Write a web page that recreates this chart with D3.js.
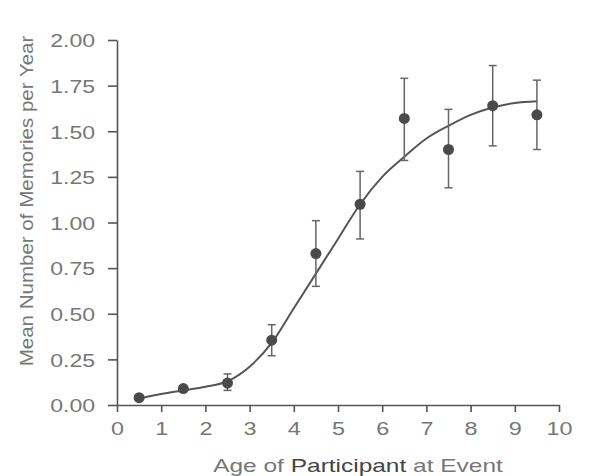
<!DOCTYPE html>
<html>
<head>
<meta charset="utf-8">
<script src="https://cdn.jsdelivr.net/npm/d3@7"></script>
<style>
body { margin: 0; background: #fff; }
svg { display: block; }
text { font-family: "Liberation Sans", Arial, sans-serif; }
</style>
</head>
<body>
<svg id="chart" width="589" height="476"></svg>
<script>
// age bins (midpoints) and mean memories per year
const ages = [0.5, 1.5, 2.5, 3.5, 4.5, 5.5, 6.5, 7.5, 8.5, 9.5];
const means = [0.04, 0.09, 0.12, 0.355, 0.83, 1.10, 1.57, 1.40, 1.64, 1.59];
const errHigh = [0.05, 0.10, 0.17, 0.44, 1.01, 1.28, 1.79, 1.62, 1.86, 1.78];
const errLow = [0.03, 0.08, 0.08, 0.27, 0.65, 0.91, 1.34, 1.19, 1.42, 1.40];

// fitted curve
const fitX = [0.5, 1, 1.5, 2, 2.5, 3, 3.5, 4, 4.5, 5, 5.5, 6, 6.5, 7, 7.5, 8, 8.5, 9, 9.5];
const fitY = [0.035, 0.06, 0.08, 0.10, 0.13, 0.21, 0.34, 0.53, 0.72, 0.91, 1.10, 1.25, 1.36, 1.46, 1.53, 1.59, 1.63, 1.655, 1.665];

const xTicks = [0, 1, 2, 3, 4, 5, 6, 7, 8, 9, 10];
const yTicks = [0, 0.25, 0.5, 0.75, 1, 1.25, 1.5, 1.75, 2];

const svg = d3.select('#chart');
const x = d3.scaleLinear().domain([0, 10]).range([117, 559]);
const y = d3.scaleLinear().domain([0, 2]).range([405, 40]);

const axisColor = '#555';
const textColor = '#777';

//Y axis
const yAxis = svg.append('g')
	.attr('transform', 'translate(' + x(0) + ',0)')
	.call(d3.axisLeft(y).tickValues(yTicks).tickFormat(d3.format('.2f')).tickSize(9).tickSizeOuter(0));
yAxis.select('.domain').attr('stroke', axisColor).attr('stroke-width', 1.6);
yAxis.selectAll('.tick line').attr('stroke', axisColor).attr('stroke-width', 1.6);
yAxis.selectAll('.tick text')
	.attr('x', 0)
	.attr('transform', 'translate(-22,1) scale(1.28,1)')
	.attr('fill', textColor)
	.style('font-size', '18px');

//X axis
const xAxis = svg.append('g')
	.attr('transform', 'translate(0,' + y(0) + ')')
	.call(d3.axisBottom(x).tickValues(xTicks).tickFormat(d3.format('d')).tickSize(7).tickSizeOuter(0));
xAxis.select('.domain').attr('stroke', axisColor).attr('stroke-width', 1.6);
xAxis.selectAll('.tick line').attr('stroke', axisColor).attr('stroke-width', 1.6);
xAxis.selectAll('.tick text')
	.attr('y', 17)
	.attr('transform', 'scale(1.3,1)')
	.attr('fill', textColor)
	.style('font-size', '18px');

//Axis titles
svg.append('text')
	.attr('transform', 'translate(33,201) rotate(-90) scale(1.14,1)')
	.attr('text-anchor', 'middle')
	.attr('fill', textColor)
	.style('font-size', '18px')
	.text('Mean Number of Memories per Year');

const xTitle = svg.append('text')
	.attr('transform', 'translate(358,472) scale(1.36,1)')
	.attr('text-anchor', 'middle')
	.attr('fill', textColor)
	.style('font-size', '18px');
xTitle.append('tspan').text('Age of ');
xTitle.append('tspan').attr('fill', '#444').text('Participant');
xTitle.append('tspan').text('  at Event');

//Fitted curve
const line = d3.line()
	.x((d, i) => x(fitX[i]))
	.y(d => y(d))
	.curve(d3.curveMonotoneX);
svg.append('path')
	.attr('d', line(fitY))
	.attr('fill', 'none')
	.attr('stroke', '#555')
	.attr('stroke-width', 2);

//Error bars
const cap = 4;
const bars = svg.append('g').attr('stroke', '#666').attr('stroke-width', 1.5);
bars.selectAll('line.v')
	.data(ages)
	.enter()
	.append('line')
	.attr('class', 'v')
	.attr('x1', d => x(d)).attr('x2', d => x(d))
	.attr('y1', (d, i) => y(errLow[i])).attr('y2', (d, i) => y(errHigh[i]));
bars.selectAll('line.hi')
	.data(ages)
	.enter()
	.append('line')
	.attr('class', 'hi')
	.attr('x1', d => x(d) - cap).attr('x2', d => x(d) + cap)
	.attr('y1', (d, i) => y(errHigh[i])).attr('y2', (d, i) => y(errHigh[i]));
bars.selectAll('line.lo')
	.data(ages)
	.enter()
	.append('line')
	.attr('class', 'lo')
	.attr('x1', d => x(d) - cap).attr('x2', d => x(d) + cap)
	.attr('y1', (d, i) => y(errLow[i])).attr('y2', (d, i) => y(errLow[i]));

//Markers
svg.selectAll('circle')
	.data(ages)
	.enter()
	.append('circle')
	.attr('cx', d => x(d))
	.attr('cy', (d, i) => y(means[i]))
	.attr('r', 5.5)
	.attr('fill', '#4a4a4a');
</script>
</body>
</html>
